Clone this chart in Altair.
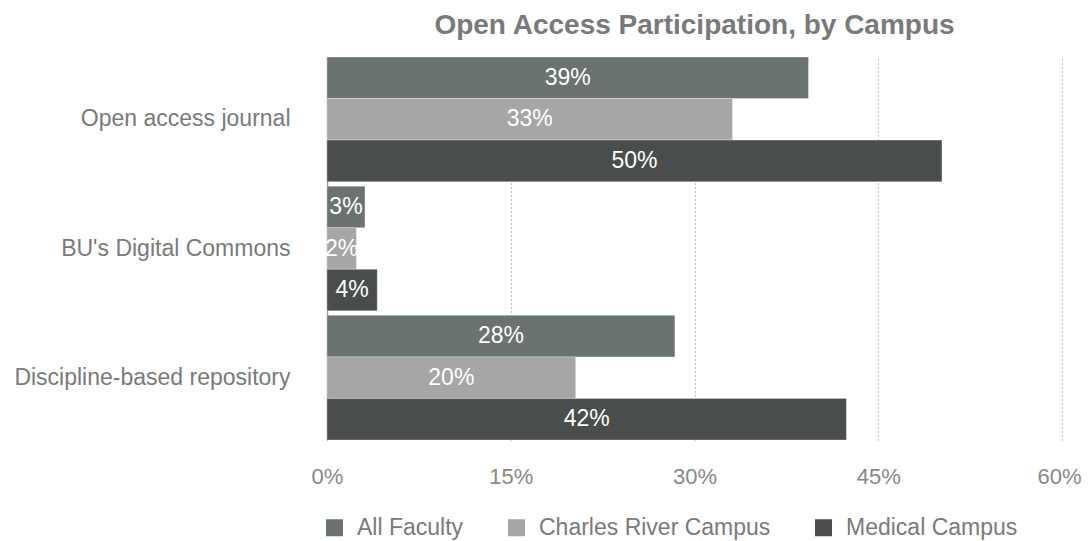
import altair as alt
import pandas as pd

categories = ["Open access journal", "BU's Digital Commons", "Discipline-based repository"]
series = ["All Faculty", "Charles River Campus", "Medical Campus"]
all_faculty = [0.393, 0.031, 0.284]
charles_river = [0.331, 0.024, 0.203]
medical = [0.502, 0.041, 0.424]
colors = ["#6b7370", "#a6a6a6", "#494d4b"]
x_ticks = [0, 0.15, 0.30, 0.45, 0.60]

rows = []
for s, vals in zip(series, [all_faculty, charles_river, medical]):
    for c, v in zip(categories, vals):
        rows.append({"category": c, "series": s, "value": v})
df = pd.DataFrame(rows)

FONT = "Liberation Sans"

base = alt.Chart(df).encode(
    y=alt.Y("category:N", sort=categories,
            scale=alt.Scale(paddingInner=0.035, paddingOuter=0),
            axis=alt.Axis(title=None, domain=True, domainColor="#999999", domainWidth=1.5,
                          ticks=False, grid=False, labelFontSize=23, labelColor="#7a7a7a",
                          labelFont=FONT, labelPadding=37, labelLimit=400)),
    yOffset=alt.YOffset("series:N", sort=series, scale=alt.Scale(paddingInner=0, paddingOuter=0)),
)

bars = base.mark_bar(stroke="white", strokeWidth=0.6, strokeOpacity=0.5).encode(
    x=alt.X("value:Q", scale=alt.Scale(domain=[0, 0.6], nice=False),
            axis=alt.Axis(title=None, values=x_ticks, format=".0%", domain=False, ticks=False,
                          grid=True, gridDash=[1, 3], gridColor="#888888", gridWidth=1,
                          labelFlush=False,
                          labelOffset={"condition": {"test": "datum.value >= 0.59", "value": -3}, "value": 0},
                          labelPadding=26, labelFontSize=22, labelColor="#888888", labelFont=FONT)),
    color=alt.Color("series:N", sort=series, scale=alt.Scale(domain=series, range=colors),
                    legend=alt.Legend(title=None, orient="none", legendX=-4, legendY=459,
                                      padding=0, direction="horizontal", columnPadding=41,
                                      symbolType="square", symbolSize=289, symbolStrokeWidth=0,
                                      labelOffset=11, labelFontSize=23, labelColor="#7a7a7a",
                                      labelFont=FONT, labelLimit=400)),
)

labels = base.mark_text(color="white", fontSize=23, font=FONT, baseline="middle", align="center").transform_calculate(
    mid="datum.value / 2"
).encode(
    x=alt.X("mid:Q"),
    text=alt.Text("value:Q", format=".0%"),
)

chart = alt.layer(bars, labels).properties(
    width=735,
    height=383,
    autosize=alt.AutoSizeParams(type="none"),
    padding={"left": 319, "top": 49, "right": 20, "bottom": 110},
    title=alt.Title("Open Access Participation, by Campus", fontSize=28, fontWeight="bold",
                    color="#7a7a7a", font=FONT, anchor="middle", offset=17),
).configure_view(stroke=None)

chart.save("out.html", embed_options={"renderer": "svg", "actions": False})
